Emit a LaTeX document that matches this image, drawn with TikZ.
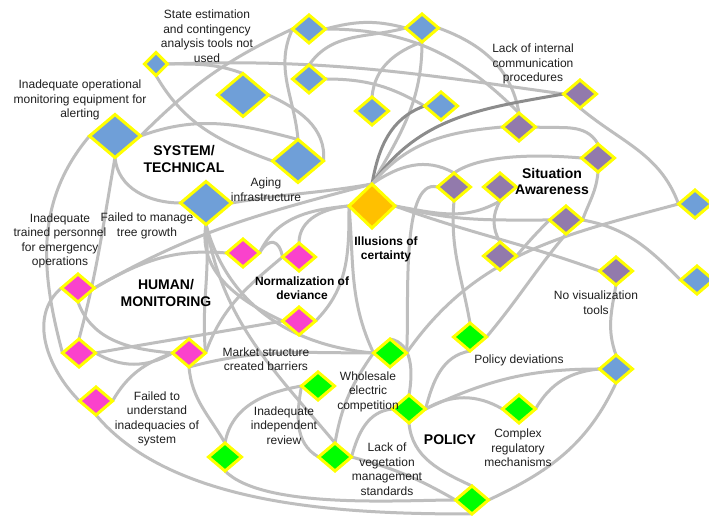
\documentclass[tikz,border=0pt]{standalone}
\usepackage{fontspec}
\setmainfont{Liberation Sans}
\usetikzlibrary{shapes.geometric}
\definecolor{eg}{RGB}{190,190,190}
\definecolor{edk}{RGB}{140,140,140}
\definecolor{cblue}{RGB}{111,159,216}
\definecolor{cpink}{RGB}{250,66,204}
\definecolor{cgreen}{RGB}{0,255,0}
\definecolor{cpurp}{RGB}{146,122,172}
\definecolor{corange}{RGB}{255,192,0}
\definecolor{cyel}{RGB}{255,255,0}
\pgfdeclarelayer{bg}
\pgfdeclarelayer{edges}
\pgfsetlayers{bg,edges,main}
\begin{document}
\begin{tikzpicture}[x=1pt,y=1pt,
  dia/.style={diamond,draw=cyel,line width=3pt,inner sep=0pt,outer sep=0pt},
  dsm/.style={dia,minimum width=23pt,minimum height=23pt},
  dmd/.style={dia,minimum width=33pt,minimum height=28pt},
  dlg/.style={dia,minimum width=51pt,minimum height=43pt},
  dor/.style={dia,minimum width=46pt,minimum height=44pt,fill=corange},
  nb/.style={fill=cblue}, np/.style={fill=cpink}, ng/.style={fill=cgreen}, nv/.style={fill=cpurp},
  lab/.style={align=center,font=\fontsize{12}{14.5}\selectfont,text=black!88,inner sep=0pt},
  hd/.style={align=center,font=\fontsize{14}{16.5}\selectfont\bfseries,inner sep=0pt},
  hs/.style={align=center,font=\fontsize{12}{14.5}\selectfont\bfseries,inner sep=0pt},
  ed/.style={draw=eg,line width=3pt},
  edd/.style={draw=edk,line width=3pt}]
\useasboundingbox (0,0) rectangle (709,521);
\begin{pgfonlayer}{bg}
\fill[white] (0,0) rectangle (709,521);
\end{pgfonlayer}
% blue
\node[dsm,nb] (B1) at (156,457) {};
\node[dmd,nb] (B2) at (309,492) {};
\node[dmd,nb] (B3) at (309,442) {};
\node[dlg,nb] (B4) at (243,426) {};
\node[dlg,nb] (B5) at (115,385) {};
\node[dlg,nb] (B6) at (298,360) {};
\node[dlg,nb] (B7) at (206,318) {};
\node[dmd,nb] (B8) at (422,493) {};
\node[dmd,nb] (B9) at (372,410) {};
\node[dmd,nb] (B10) at (441,415) {};
\node[dmd,nb] (B11) at (695,317) {};
\node[dmd,nb] (B12) at (697,241) {};
\node[dmd,nb] (B13) at (616,152) {};
% purple
\node[dmd,nv] (P1) at (580,427) {};
\node[dmd,nv] (P2) at (519,394) {};
\node[dmd,nv] (P3) at (598,363) {};
\node[dmd,nv] (P4) at (454,334) {};
\node[dmd,nv] (P5) at (500,334) {};
\node[dmd,nv] (P6) at (566,301) {};
\node[dmd,nv] (P7) at (500,265) {};
\node[dmd,nv] (P8) at (616,250) {};
% orange
\node[dor] (O) at (372,315) {};
% pink
\node[dmd,np] (K1) at (243,268) {};
\node[dmd,np] (K2) at (299,264) {};
\node[dmd,np] (K3) at (299,200) {};
\node[dmd,np] (K4) at (78,233) {};
\node[dmd,np] (K5) at (79,168) {};
\node[dmd,np] (K6) at (189,168) {};
\node[dmd,np] (K7) at (96,120) {};
% green
\node[dmd,ng] (G1) at (318,135) {};
\node[dmd,ng] (G2) at (225,64) {};
\node[dmd,ng] (G3) at (335,64) {};
\node[dmd,ng] (G4) at (390,168) {};
\node[dmd,ng] (G5) at (409,112) {};
\node[dmd,ng] (G6) at (470,184) {};
\node[dmd,ng] (G7) at (519,112) {};
\node[dmd,ng] (G8) at (472,21) {};
% labels
\node[lab] (t1) at (207,485) {State estimation\\and contingency\\analysis tools not\\used};
\node[lab] (t2) at (80,421) {Inadequate operational\\monitoring equipment for\\alerting};
\node[hd] (t3) at (184,362) {SYSTEM/\\TECHNICAL};
\node[lab] (t4) at (266,331.5) {Aging\\infrastructure};
\node[lab] (t5) at (60,280) {Inadequate\\trained personnel\\for emergency\\operations};
\node[lab] (t6) at (147,295) {Failed to manage\\tree growth};
\node[hd] (t7) at (166,228) {HUMAN/\\MONITORING};
\node[hs] (t8) at (302,233) {Normalization of\\deviance};
\node[hs] (t9) at (386,271.5) {Illusions of\\certainty};
\node[hd] (t10) at (552,339.5) {Situation\\Awareness};
\node[lab] (t11) at (533,457) {Lack of internal\\communication\\procedures};
\node[lab] (t12) at (596,218.5) {No visualization\\tools};
\node[lab] (t13) at (266,162) {Market structure\\created barriers};
\node[lab] (t14) at (368,129.5) {Wholesale\\electric\\competition};
\node[lab] (t15) at (157,102) {Failed to\\understand\\inadequacies of\\system};
\node[lab] (t16) at (284,95.5) {Inadequate\\independent\\review};
\node[lab] (t17) at (519,161) {Policy deviations};
\node[hd] (t18) at (450,81) {POLICY};
\node[lab] (t19) at (518,73) {Complex\\regulatory\\mechanisms};
\node[lab] (t20) at (387,52) {Lack of\\vegetation\\management\\standards};
\begin{pgfonlayer}{edges}
% top / blue
\draw[ed] (B1.east) to[out=2,in=172] (P1.west);
\draw[ed] (B1.east) to[out=0,in=160] (B4.north);
\draw[ed] (B1.south) to[out=-60,in=160] (B6.west);
\draw[ed] (B5.east) to[out=45,in=205] (B2.west);
\draw[ed] (B2.east) to[out=15,in=165] (B8.west);
\draw[ed] (B2.west) to[out=-115,in=95] (B6.north);
\draw[ed] (B3.east) to[out=0,in=150] (B10.west);
\draw[ed] (B3.north) to[out=55,in=195] (B8.west);
\draw[ed] (B4.east) to[out=-25,in=85] (B6.east);
\draw[ed] (B5.east) to[out=20,in=165] (B6.north);
\draw[ed] (B5.south) to[out=-85,in=180] (B7.west);
\draw[ed] (B5.west) to[out=230,in=105] (K5.west);
\draw[ed] (B5.south) to[out=-100,in=75] (K5.north);
\draw[ed] (B2.east) to[out=0,in=135] (P2.north);
\draw[ed] (B8.east) to[out=-20,in=100] (P2.north);
\draw[ed] (B8.south) to[out=200,in=85] (B9.north);
\draw[ed] (B8.south) to[out=-90,in=60] (O.north);
\draw[edd] (O.north) to[out=80,in=200] (B10.west);
\draw[edd] (O.north) to[out=55,in=190] (P1.west);
% purple
\draw[ed] (O.north) to[out=50,in=185] (P2.west);
\draw[ed] (O.north) to[out=35,in=150] (P4.north);
\draw[ed] (P4.north) to[out=35,in=175,looseness=0.7] (P3.west);
\draw[ed] (P2.east) to[out=-5,in=120] (P3.north);
\draw[ed] (P3.south) to[out=-95,in=70] (P6.east);
\draw[ed] (O.east) to[out=-10,in=-150] (P5.south);
\draw[ed] (O.east) to[out=-15,in=180] (P6.west);
\draw[ed] (O.east) to[out=-20,in=160] (P8.west);
\draw[ed] (P5.south) to[out=-120,in=120] (P7.north);
\draw[ed] (P7.east) to[out=50,in=225] (P6.west);
\draw[ed] (P6.east) to[out=-10,in=135] (B12.west);
\draw[ed] (P1.south) to[out=-40,in=110] (B11.west);
\draw[ed] (P4.south) to[out=-95,in=100] (G6.north);
\draw[ed] (G6.east) to[out=50,in=230] (P6.south);
\draw[ed] (P4.west) to[out=165,in=85,looseness=0.6] (G4.east);
% orange to left
\draw[ed] (O.west) to[out=-85,in=115] (G4.west);
\draw[ed] (O.west) to[out=-90,in=45] (K3.east);
\draw[ed] (O.west) to[out=185,in=90] (K2.north);
\draw[ed] (O.west) to[out=185,in=65] (K1.east);
\draw[ed] (K4.east) to[out=30,in=195] (O.north);
\draw[ed] (K4.east) to[out=30,in=175] (K1.west);
\draw[ed] (B7.east) to[out=10,in=190] (O.north);
% pink
\draw[ed] (K1.east) to[out=60,in=100,looseness=2] (K2.west);
\draw[ed] (K2.west) to[out=220,in=70] (K6.east);
\draw[ed] (B7.south) to[out=-85,in=95] (K6.east);
\draw[ed] (B7.south) to[out=-100,in=155] (K3.west);
\draw[ed] (B7.south) to[out=-75,in=175] (G4.west);
\draw[ed] (B7.south) to[out=-80,in=130] (G3.north);
\draw[ed] (G4.west) to[out=235,in=80] (G3.north);
\draw[ed] (K6.south) to[out=15,in=180] (G4.west);
\draw[ed] (K6.south) to[out=-85,in=120] (G2.north);
\draw[ed] (K5.east) to[out=10,in=190] (K3.west);
\draw[ed] (K5.east) to[out=-30,in=210] (K6.west);
\draw[ed] (K4.south) to[out=-70,in=175] (K6.west);
\draw[ed] (K7.east) to[out=60,in=200] (K6.west);
\draw[ed] (K4.west) to[out=220,in=135] (K7.west);
\draw[ed] (K7.south) to[out=-50,in=180,looseness=0.8] (G8.south);
% green
\draw[ed] (G2.south) to[out=-45,in=180,looseness=0.6] (G8.west);
\draw[ed] (G3.east) to[out=-15,in=150] (G8.west);
\draw[ed] (G3.east) to[out=75,in=185] (G5.west);
\draw[ed] (G1.west) to[out=190,in=80] (G2.north);
\draw[ed] (G1.west) to[out=-100,in=150] (G3.west);
\draw[ed] (G4.north) to[out=-10,in=80] (G5.north);
\draw[ed] (G4.east) to[out=55,in=195] (B11.west);
\draw[ed] (G5.east) to[out=75,in=190] (G6.south);
\draw[ed] (G5.east) to[out=30,in=150] (G7.west);
\draw[ed] (G5.east) to[out=25,in=180] (B13.west);
\draw[ed] (G5.south) to[out=-85,in=155] (G8.north);
\draw[ed] (G7.east) to[out=60,in=185] (B13.west);
\draw[ed] (B13.south) to[out=-115,in=25] (G8.east);
\draw[ed] (P8.south) to[out=-100,in=110] (B13.north);
\end{pgfonlayer}
\end{tikzpicture}
\end{document}
